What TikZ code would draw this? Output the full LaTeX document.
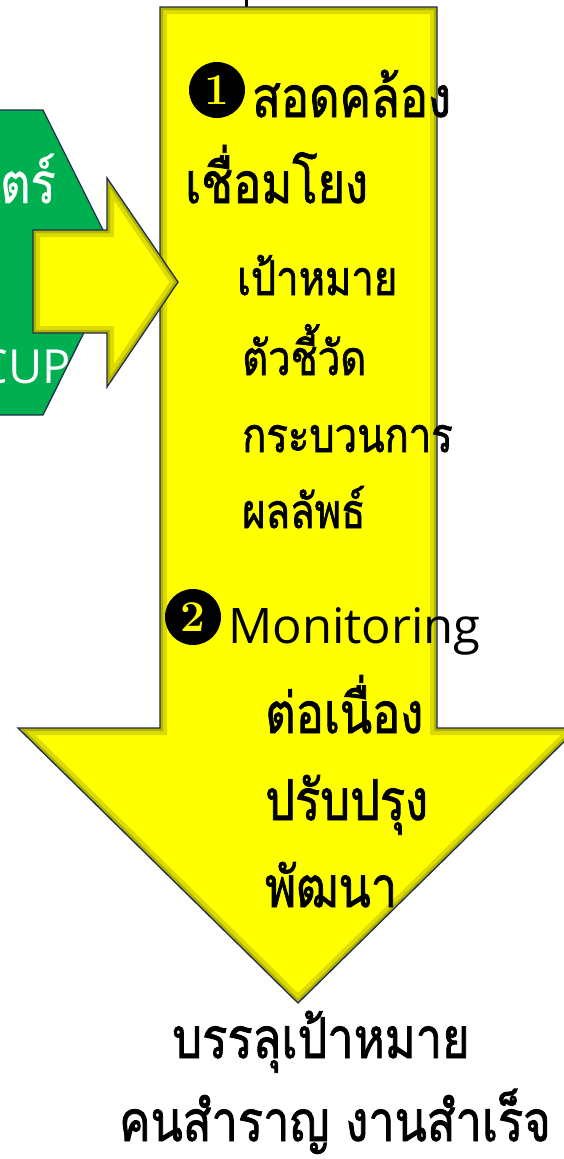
\documentclass[tikz,border=0pt]{standalone}
\usepackage{fontspec}
\newfontfamily\thaifont[Script=Thai,FakeBold=1.6]{Loma}
\newfontfamily\thailight[Script=Thai,FakeBold=0.6]{Loma}
\newfontfamily\latinfont{Open Sans}
\usetikzlibrary{calc}
\definecolor{arrowyellow}{HTML}{FFFF00}
\definecolor{navyline}{HTML}{1F2D4E}
\definecolor{hexgreen}{HTML}{00B050}
\definecolor{bevel}{HTML}{8A8A00}
\newcommand{\tall}[1]{\scalebox{1}[1.2]{#1}}
\tikzset{
  bigtxt/.style={anchor=base west, inner sep=0pt, font=\thaifont\fontsize{47}{50}\selectfont},
  smalltxt/.style={anchor=base west, inner sep=0pt, font=\thaifont\fontsize{40}{42}\selectfont},
  lattxt/.style={anchor=base west, inner sep=0pt, font=\latinfont\fontsize{49}{50}\selectfont},
  whitetxt/.style={anchor=base east, inner sep=0pt, text=white, font=\thailight\fontsize{47}{50}\selectfont},
  numdisc/.style={circle, fill=black, minimum size=56pt, inner sep=0pt, text=arrowyellow, font=\bfseries\fontsize{44}{44}\selectfont},
  outline/.style={draw=navyline, line width=1.3pt, line join=miter},
}
\begin{document}
\begin{tikzpicture}[x=1pt,y=-1pt]
\useasboundingbox (0,0) rectangle (564,1159);
% green hexagon
\draw[outline, fill=hexgreen] (-10,110) -- (43,110) -- (119,262) -- (43,415) -- (-10,415) -- cycle;
\node[whitetxt] (t1) at (56,203) {\tall{ตร์}};
\node[whitetxt, font=\latinfont\fontsize{47}{50}\selectfont] (t2) at (71,383) {CUP};
% top connector
\coordinate (ctop) at (246,0);
\coordinate (cbot) at (246,7);
\draw[line width=3pt, black] (ctop) -- (cbot);
% big down arrow
\def\bigarrow{(160,7) -- (437,7) -- (437,728) -- (578,728) -- (298,1003) -- (18,728) -- (160,728) -- cycle}
\fill[arrowyellow] \bigarrow;
\begin{scope}
\clip \bigarrow;
\draw[bevel, line width=14pt, opacity=0.3] \bigarrow;
\draw[bevel, line width=6pt, opacity=0.5] \bigarrow;
\end{scope}
\draw[outline] \bigarrow;
% small right arrow
\def\smallarrow{(33,230) -- (107,230) -- (107,178) -- (178,282) -- (107,387) -- (107,333) -- (33,333) -- cycle}
\fill[arrowyellow] \smallarrow;
\begin{scope}
\clip \smallarrow;
\draw[bevel, line width=14pt, opacity=0.3] \smallarrow;
\draw[bevel, line width=6pt, opacity=0.5] \smallarrow;
\end{scope}
\draw[outline] \smallarrow;
% texts
\node[numdisc] (n1) at (217,90) {1};
\node[bigtxt] (s1) at (252,117) {\tall{สอดคล้อง}};
\node[bigtxt] (s2) at (185,203) {\tall{เชื่อมโยง}};
\node[smalltxt] (a1) at (237,295) {\tall{เป้าหมาย}};
\node[smalltxt] (a2) at (242,375) {\tall{ตัวชี้วัด}};
\node[smalltxt] (a3) at (242,452) {\tall{กระบวนการ}};
\node[smalltxt] (a4) at (242,528) {\tall{ผลลัพธ์}};
\node[numdisc] (n2) at (193,617) {2};
\node[lattxt] (m1) at (228,643) {Monitoring};
\node[bigtxt] (m2) at (265,733) {\tall{ต่อเนื่อง}};
\node[bigtxt] (m3) at (265,820) {\tall{ปรับปรุง}};
\node[bigtxt] (m4) at (265,907) {\tall{พัฒนา}};
\node[bigtxt, anchor=base] (r1) at (321,1058) {\tall{บรรลุเป้าหมาย}};
\node[bigtxt, anchor=base] (r2) at (335,1141) {\tall{คนสำราญ งานสำเร็จ}};
\end{tikzpicture}
\end{document}
